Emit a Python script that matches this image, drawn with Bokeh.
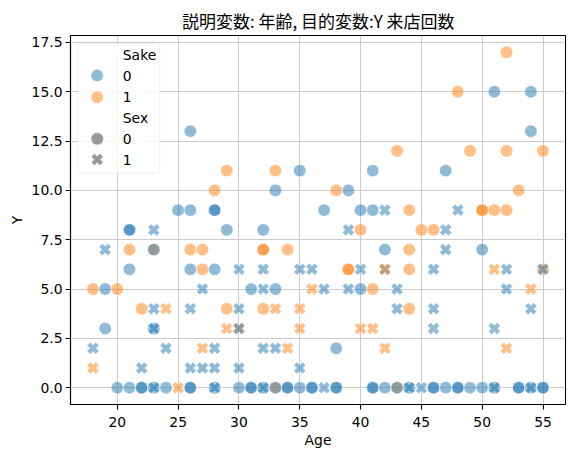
import numpy as np
from bokeh.plotting import figure
from bokeh.models import ColumnDataSource, FixedTicker, PrintfTickFormatter, Range1d, Label, BoxAnnotation
from bokeh.embed import file_html
from bokeh.resources import INLINE

# ---------------- data ----------------
# one entry per point: Age, Y (visits), Sake (0/1), Sex (0/1); grouped by Y row
age = [
    20, 21, 22, 22, 23, 23, 24, 25, 26, 26, 28, 28, 30, 31, 31, 32, 32, 33, 33, 34, 34, 35, 36, 36,
    37, 38, 38, 41, 41, 42, 43, 43, 44, 44, 45, 46, 46, 47, 48, 48, 49, 50, 51, 51, 53, 53, 54, 54, 55, 55,
    18, 22, 26, 27, 28, 30, 35,
    18, 24, 27, 28, 32, 33, 34, 38, 42, 52,
    19, 23, 23, 29, 30, 30, 35, 40, 41, 46, 51,
    22, 23, 24, 26, 29, 30, 32, 33, 35, 43, 44, 46, 54,
    18, 19, 20, 27, 31, 32, 33, 36, 37, 39, 40, 41, 43, 52, 54,
    21, 26, 27, 28, 30, 32, 35, 36, 39, 39, 40, 42, 42, 44, 46, 51, 52, 55, 55,
    19, 21, 23, 23, 26, 27, 32, 32, 34, 42, 44, 47, 50,
    21, 21, 23, 29, 32, 39, 40, 45, 46, 47,
    25, 26, 28, 28, 37, 40, 41, 42, 44, 48, 50, 50, 51, 52,
    28, 33, 38, 39, 53,
    29, 33, 35, 41, 47,
    43, 49, 52, 55,
    26, 54,
    48, 51, 54,
    52,
]
visits = (
    [0] * 50 + [1] * 7 + [2] * 10 + [3] * 11 + [4] * 13 + [5] * 15 + [6] * 19
    + [7] * 13 + [8] * 10 + [9] * 14 + [10] * 5 + [11] * 5 + [12] * 4 + [13] * 2 + [15] * 3 + [17] * 1
)
sake = [
    0, 0, 0, 0, 0, 0, 0, 1, 0, 0, 0, 0, 0, 0, 0, 0, 0, 1, 0, 0, 0, 0, 0, 0,
    0, 0, 0, 0, 0, 0, 1, 0, 0, 0, 0, 0, 0, 0, 0, 0, 0, 0, 0, 0, 0, 0, 0, 0, 0, 0,
    1, 0, 0, 0, 0, 0, 0,
    0, 0, 1, 0, 0, 0, 1, 0, 1, 1,
    0, 0, 0, 1, 1, 0, 1, 1, 1, 0, 0,
    1, 0, 1, 0, 1, 0, 1, 1, 1, 0, 1, 0, 0,
    1, 0, 1, 0, 0, 0, 0, 1, 0, 0, 0, 1, 0, 0, 1,
    0, 0, 1, 0, 0, 0, 0, 0, 1, 1, 0, 0, 1, 1, 0, 1, 0, 1, 0,
    0, 1, 1, 0, 1, 1, 1, 1, 1, 0, 1, 0, 0,
    0, 0, 0, 0, 0, 0, 1, 1, 1, 0,
    0, 0, 0, 0, 0, 0, 0, 0, 1, 0, 1, 1, 1, 1,
    1, 0, 1, 0, 1,
    1, 1, 0, 0, 0,
    1, 1, 1, 1,
    0, 0,
    1, 0, 0,
    1,
]
sex = [
    0, 0, 0, 0, 0, 1, 0, 1, 0, 0, 0, 1, 0, 0, 0, 0, 1, 0, 0, 0, 0, 0, 0, 0,
    1, 0, 0, 0, 0, 0, 0, 0, 0, 1, 1, 0, 0, 0, 0, 0, 0, 0, 0, 1, 0, 0, 0, 1, 0, 0,
    1, 1, 1, 1, 1, 1, 1,
    1, 1, 1, 1, 1, 1, 1, 0, 1, 1,
    0, 0, 1, 1, 1, 1, 1, 1, 1, 1, 1,
    0, 1, 1, 1, 0, 1, 0, 1, 1, 1, 0, 1, 1,
    0, 0, 0, 1, 0, 1, 0, 1, 1, 1, 0, 0, 1, 1, 1,
    0, 0, 0, 0, 1, 1, 1, 1, 0, 0, 1, 1, 1, 0, 1, 1, 1, 0, 1,
    1, 0, 0, 0, 0, 0, 0, 0, 0, 0, 0, 1, 0,
    0, 0, 1, 0, 0, 1, 0, 0, 0, 1,
    0, 0, 0, 0, 0, 0, 0, 1, 0, 1, 0, 0, 0, 0,
    0, 0, 0, 0, 0,
    0, 0, 0, 0, 0,
    0, 0, 0, 0,
    0, 0,
    0, 0, 0,
    0,
]

x_ticks = [20, 25, 30, 35, 40, 45, 50, 55]
y_ticks = [0, 2.5, 5, 7.5, 10, 12.5, 15, 17.5]
title_text = "説明変数: 年齢, 目的変数:Y 来店回数"
x_label = "Age"
y_label = "Y"
legend_sake_title = "Sake"
legend_sex_title = "Sex"
levels = ["0", "1"]
palette = ["#1f77b4", "#ff7f0e"]
style_gray = "#333333"

# ---------------- layout ----------------
W, H = 575, 458
MB_L, MB_R, MB_T, MB_B = 70, 10, 35, 54
FW = W - MB_L - MB_R
FH = H - MB_T - MB_B
FL_IMG, FT_IMG = MB_L, MB_T

xa, xb = min(age), max(age)
ya, yb = min(visits), max(visits)
x_lo, x_hi = xa - 0.05 * (xb - xa), xb + 0.05 * (xb - xa)
y_lo, y_hi = ya - 0.05 * (yb - ya), yb + 0.05 * (yb - ya)


def dx(px):
    return x_lo + (px - FL_IMG) / FW * (x_hi - x_lo)


def dy(py):
    return y_hi - (py - FT_IMG) / FH * (y_hi - y_lo)


p = figure(width=W, height=H, x_range=Range1d(x_lo, x_hi), y_range=Range1d(y_lo, y_hi),
           output_backend="svg", toolbar_location=None,
           min_border_left=MB_L, min_border_right=MB_R, min_border_top=MB_T, min_border_bottom=MB_B,
           background_fill_color="white", border_fill_color="white")

p.outline_line_color = "black"
p.outline_line_width = 1.1

p.title.text = title_text
p.title.text_font = "Noto Sans CJK JP"
p.title.text_font_size = "17px"
p.title.text_font_style = "normal"
p.title.text_color = "black"
p.title.align = "center"
p.title.standoff = 6

FONT = "DejaVu Sans"
FS = "13.9px"
for ax in (p.xaxis[0], p.yaxis[0]):
    ax.axis_line_color = "black"
    ax.axis_line_width = 1.1
    ax.major_tick_line_color = "black"
    ax.major_tick_line_width = 1.1
    ax.major_tick_out = 5
    ax.major_tick_in = 0
    ax.minor_tick_line_color = None
    ax.major_label_text_font = FONT
    ax.major_label_text_font_size = FS
    ax.major_label_text_color = "black"
    ax.axis_label_text_font = FONT
    ax.axis_label_text_font_size = FS
    ax.axis_label_text_font_style = "normal"
    ax.axis_label_text_color = "black"

p.xaxis.ticker = FixedTicker(ticks=x_ticks)
p.yaxis.ticker = FixedTicker(ticks=y_ticks)
p.yaxis.formatter = PrintfTickFormatter(format="%.1f")
p.xaxis.axis_label = x_label
p.yaxis.axis_label = y_label
p.xaxis.major_label_standoff = 7
p.yaxis.major_label_standoff = 3
p.xaxis.axis_label_standoff = 2
p.yaxis.axis_label_standoff = 4

p.grid.grid_line_color = "#cbcbcb"
p.grid.grid_line_width = 1

# ---------------- points ----------------
src = ColumnDataSource(dict(
    x=age, y=visits,
    color=[palette[s] for s in sake],
    marker=["circle" if s == 0 else "plus" for s in sex],
    angle=[0.0 if s == 0 else np.pi / 4 for s in sex],
))
p.scatter("x", "y", source=src, marker="marker", angle="angle", size=12.4,
          fill_color="color", fill_alpha=0.5, line_color="white", line_alpha=0.5, line_width=1)

# ---------------- legend ----------------
box = BoxAnnotation(left=dx(77.3), right=dx(159.3), top=dy(42.7), bottom=dy(172.7),
                    fill_color="white", fill_alpha=0.8, line_color="#cccccc", line_width=1,
                    border_radius=3)
p.add_layout(box)

rows_y = [54, 75, 96.7, 117.3, 138.3, 159]
texts = [legend_sake_title, levels[0], levels[1], legend_sex_title, levels[0], levels[1]]
for t, yy in zip(texts, rows_y):
    p.add_layout(Label(x=dx(122.3), y=dy(yy), text=t, text_baseline="middle", text_align="left",
                       text_font=FONT, text_font_size=FS, text_color="black"))

leg_src = ColumnDataSource(dict(
    x=[dx(96.7)] * 4,
    y=[dy(rows_y[1]), dy(rows_y[2]), dy(rows_y[4]), dy(rows_y[5])],
    color=[palette[0], palette[1], style_gray, style_gray],
    marker=["circle", "circle", "circle", "plus"],
    angle=[0.0, 0.0, 0.0, np.pi / 4],
))
p.scatter("x", "y", source=leg_src, marker="marker", angle="angle", size=12.4,
          fill_color="color", fill_alpha=0.5, line_color="white", line_alpha=0.5, line_width=1,
          level="overlay")

open("out.html", "w").write(file_html(p, INLINE))
